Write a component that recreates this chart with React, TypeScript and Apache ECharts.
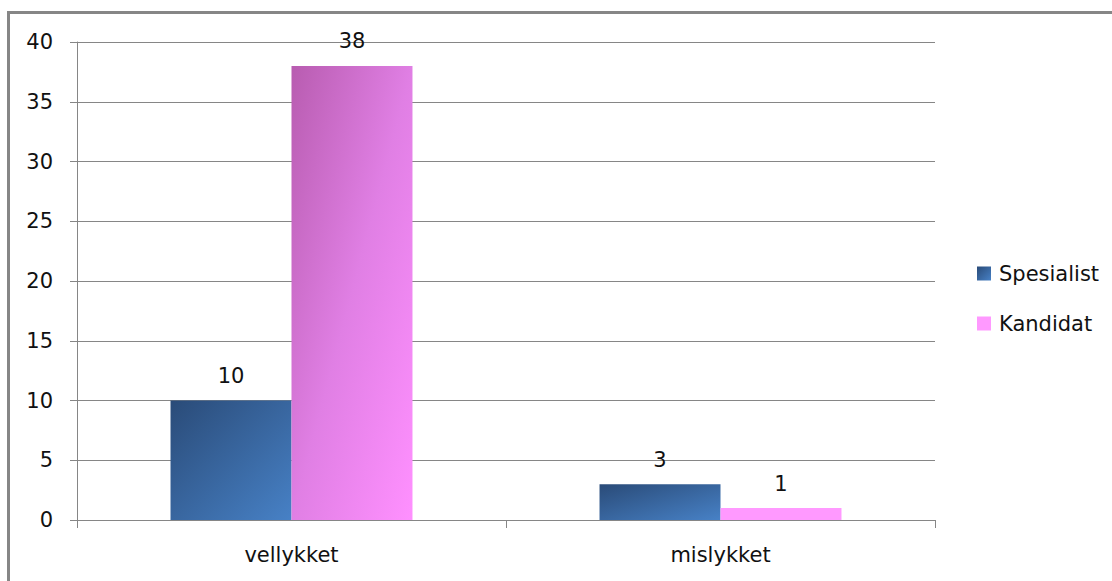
import React, { useEffect, useRef } from "react";
import * as echarts from "echarts";

const categories = ["vellykket", "mislykket"];
const spesialist = [10, 3];
const kandidat = [38, 1];
const seriesNames = ["Spesialist", "Kandidat"];
const yTicks = { min: 0, max: 40, interval: 5 };

const GRAY = "#868686";
const FONT = "DejaVu Sans";
const FS = 21;

export default function App() {
  const ref = useRef<HTMLDivElement>(null);

  useEffect(() => {
    if (!ref.current) return;
    const chart = echarts.init(ref.current, undefined, { renderer: "svg" });

    const blueGrad = new echarts.graphic.LinearGradient(0, 0, 1, 1, [
      { offset: 0, color: "#2a4b78" },
      { offset: 1, color: "#4781c6" },
    ]);
    const pinkGrad = new echarts.graphic.LinearGradient(0, 0, 1, 1, [
      { offset: 0, color: "#b85cb0" },
      { offset: 0.5, color: "#e07fe4" },
      { offset: 1, color: "#ff90ff" },
    ]);
    const flatPink = "#ff99ff";

    const labelStyle = {
      show: true,
      position: "top" as const,
      distance: 14,
      color: "#111",
      fontFamily: FONT,
      fontSize: FS,
    };

    chart.setOption({
      animation: false,
      backgroundColor: "#ffffff",
      textStyle: { fontFamily: FONT },
      grid: { left: 77, right: 177, top: 42, bottom: 61, containLabel: false },
      legend: {
        orient: "vertical",
        left: 977,
        top: 263,
        padding: 0,
        itemWidth: 14,
        itemHeight: 14,
        itemGap: 29,
        icon: "rect",
        textStyle: { fontSize: FS, color: "#111", fontFamily: FONT, padding: [0, 0, 0, 3] },
        data: [
          { name: seriesNames[0] },
          { name: seriesNames[1], itemStyle: { color: flatPink } },
        ],
      },
      xAxis: {
        type: "category",
        data: categories,
        axisLine: { lineStyle: { color: GRAY, width: 1 } },
        axisTick: { show: true, length: 8, lineStyle: { color: GRAY }, alignWithLabel: false },
        axisLabel: { fontSize: FS, color: "#111", margin: 24, fontFamily: FONT },
      },
      yAxis: {
        type: "value",
        min: yTicks.min,
        max: yTicks.max,
        interval: yTicks.interval,
        axisLine: { show: true, lineStyle: { color: GRAY, width: 1 } },
        axisTick: { show: true, length: 7, lineStyle: { color: GRAY } },
        splitLine: { lineStyle: { color: GRAY, width: 1 } },
        axisLabel: { fontSize: FS, color: "#111", margin: 24, fontFamily: FONT },
      },
      series: [
        {
          name: seriesNames[0],
          type: "bar",
          data: spesialist,
          barGap: "0%",
          barCategoryGap: "43.6%",
          itemStyle: { color: blueGrad },
          label: labelStyle,
        },
        {
          name: seriesNames[1],
          type: "bar",
          data: kandidat.map((v, i) =>
            i === 1 ? { value: v, itemStyle: { color: flatPink } } : v
          ),
          barGap: "0%",
          barCategoryGap: "43.6%",
          itemStyle: { color: pinkGrad },
          label: labelStyle,
        },
      ],
      graphic: [
        {
          type: "rect",
          silent: true,
          shape: { x: 8.5, y: 12.5, width: 1200, height: 700 },
          style: { fill: "none", stroke: GRAY, lineWidth: 3 },
        },
      ],
    });

    return () => chart.dispose();
  }, []);

  return (
    <div
      ref={ref}
      style={{ position: "fixed", left: 0, top: 0, width: 1112, height: 581 }}
    />
  );
}
